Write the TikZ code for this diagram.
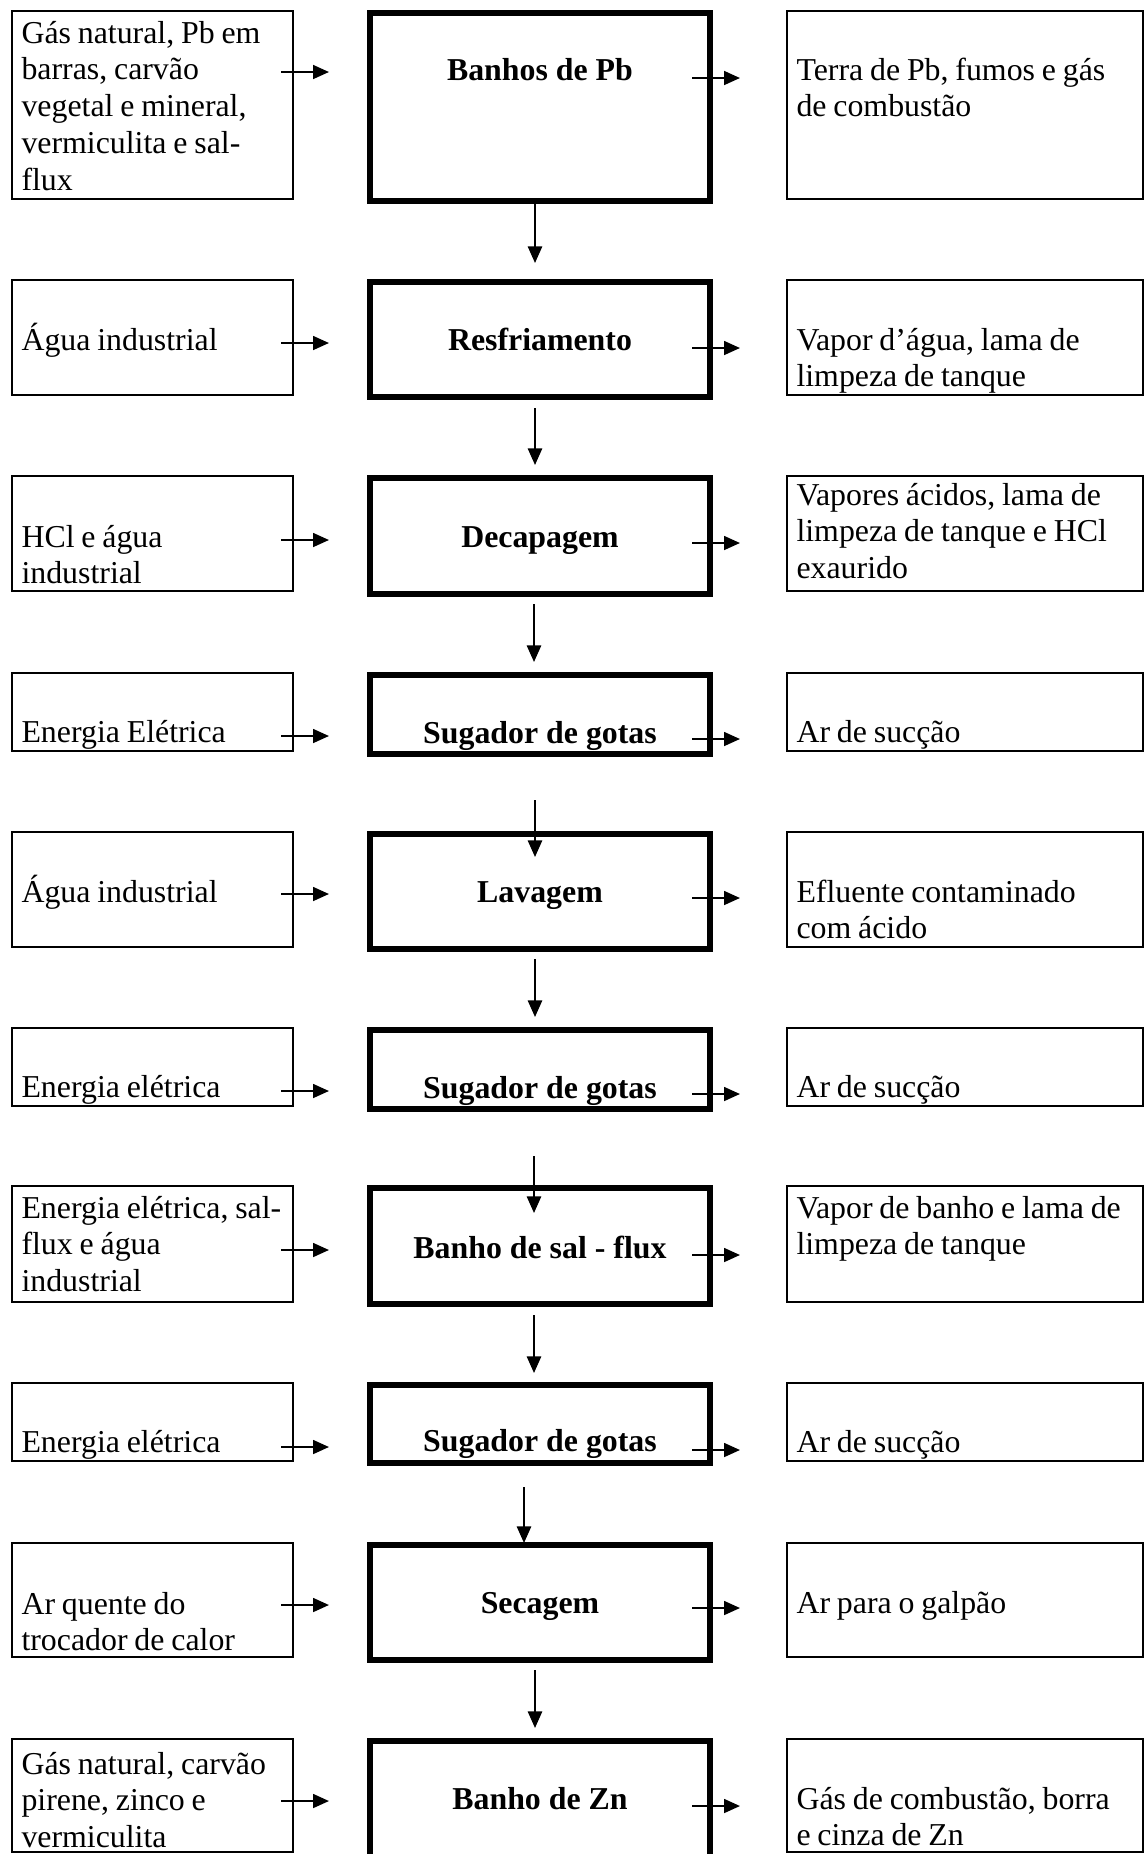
\documentclass[tikz,border=0pt]{standalone}
\usepackage{fontspec}
\setmainfont{Liberation Serif}
\usetikzlibrary{arrows.meta}

% one drawing unit = one pixel of the 1145 x 1854 sheet
\newdimen\pxu
\pxu=0.3768pt

% slightly narrower word spaces for the plain-text boxes
\newcommand\tightspace{\spaceskip=0.215em plus 0.07em minus 0.05em\relax}

\tikzset{
  every node/.style={font=\fontsize{12pt}{13.9pt}\selectfont},
  plaintxt/.style={execute at begin node=\tightspace},
  sidebox/.style={draw, line width=0.75pt, rectangle, inner sep=0pt, outer sep=0pt,
                  anchor=north west},
  inbox/.style={sidebox, minimum width={281*\pxu}},
  outbox/.style={sidebox, minimum width={356*\pxu}},
  procbox/.style={draw, line width=2.4pt, rectangle, inner sep=0pt, outer sep=0pt,
                  anchor=north, minimum width={339.5*\pxu}},
  lefttxt/.style={plaintxt, anchor=base west, inner sep=0pt, align=left, text width=107pt},
  righttxt/.style={plaintxt, anchor=base west, inner sep=0pt, align=left, text width=132pt},
  proctxt/.style={anchor=base, inner sep=0pt,
                  font=\fontsize{12pt}{13.9pt}\selectfont\bfseries},
  harrow/.style={line width=0.8pt, -{Triangle[length=6pt,width=5.2pt]}},
  varrow/.style={line width=0.75pt, -{Triangle[length=6.3pt,width=5.4pt]}},
}

% one row: input box, process box, output box and the two side arrows
% #1 id, #2 top, #3 bottom of side boxes, #4 bottom of process box,
% #5 height of input arrow, #6 height of output arrow
\newcommand\flowrow[6]{%
  \node[inbox, minimum height={(#3-#2-2)*\pxu}] (in#1) at (12,#2+1) {};
  \node[procbox, minimum height={(#4-#2-6.4)*\pxu}] (p#1) at (540,#2+3.2) {};
  \node[outbox, minimum height={(#3-#2-2)*\pxu}] (out#1) at (787,#2+1) {};
  \coordinate (ia#1) at (281,#5);
  \coordinate (ib#1) at (329,#5);
  \coordinate (oa#1) at (692,#6);
  \coordinate (ob#1) at (740,#6);
  \draw[harrow] (ia#1) -- (ib#1);
  \draw[harrow] (oa#1) -- (ob#1);
}

% vertical arrow between two process steps
% #1 id, #2 x, #3 start, #4 tip
\newcommand\stepdown[4]{%
  \coordinate (da#1) at (#2,#3);
  \coordinate (db#1) at (#2,#4);
  \draw[varrow] (da#1) -- (db#1);
}

\begin{document}
\begin{tikzpicture}[x=\pxu, y=-\pxu]
\useasboundingbox (0,0) rectangle (1145,1854);

% boxes and side arrows
\flowrow{1}{10}{200}{204}{72}{78}
\flowrow{2}{279}{396}{400}{343}{348}
\flowrow{3}{475}{592}{597}{540}{543}
\flowrow{4}{672}{752}{757}{736}{739}
\flowrow{5}{831}{948}{952}{894}{898}
\flowrow{6}{1027}{1107}{1112}{1091}{1094}
\flowrow{7}{1185}{1303}{1307}{1250}{1255}
\flowrow{8}{1382}{1462}{1466}{1447}{1450}
\flowrow{9}{1542}{1658}{1663}{1605}{1608}
\flowrow{10}{1738}{1853}{1875}{1801}{1806}

% arrows down the process line
\stepdown{1}{535}{204}{263}
\stepdown{2}{535}{408}{465}
\stepdown{3}{534}{604}{662}
\stepdown{4}{535}{800}{857}
\stepdown{5}{535}{959}{1017}
\stepdown{6}{534}{1156}{1213}
\stepdown{7}{534}{1315}{1373}
\stepdown{8}{524}{1487}{1543}
\stepdown{9}{535}{1670}{1728}

% row 1
\node[lefttxt] (t1a) at (21,43) {Gás natural, Pb em\\barras, carvão\\vegetal e mineral,\\vermiculita e sal-\\flux};
\node[proctxt] (t1b) at (540,80) {Banhos de Pb};
\node[righttxt] (t1c) at (796,80) {Terra de Pb, fumos e gás\\de combustão};
% row 2
\node[lefttxt] (t2a) at (21,350) {Água industrial};
\node[proctxt] (t2b) at (540,350) {Resfriamento};
\node[righttxt] (t2c) at (796,350) {Vapor d’água, lama de\\limpeza de tanque};
% row 3
\node[lefttxt] (t3a) at (21,547) {HCl e água\\industrial};
\node[proctxt] (t3b) at (540,547) {Decapagem};
\node[righttxt] (t3c) at (796,505) {Vapores ácidos, lama de\\limpeza de tanque e HCl\\exaurido};
% row 4
\node[lefttxt] (t4a) at (21,742) {Energia Elétrica};
\node[proctxt] (t4b) at (540,743) {Sugador de gotas};
\node[righttxt] (t4c) at (796,742) {Ar de sucção};
% row 5
\node[lefttxt] (t5a) at (21,902) {Água industrial};
\node[proctxt] (t5b) at (540,902) {Lavagem};
\node[righttxt] (t5c) at (796,902) {Efluente contaminado\\com ácido};
% row 6
\node[lefttxt] (t6a) at (21,1097) {Energia elétrica};
\node[proctxt] (t6b) at (540,1098) {Sugador de gotas};
\node[righttxt] (t6c) at (796,1097) {Ar de sucção};
% row 7
\node[lefttxt] (t7a) at (21,1218) {Energia elétrica, sal-\\flux e água\\industrial};
\node[proctxt] (t7b) at (540,1258) {Banho de sal - flux};
\node[righttxt] (t7c) at (796,1218) {Vapor de banho e lama de\\limpeza de tanque};
% row 8
\node[lefttxt] (t8a) at (21,1452) {Energia elétrica};
\node[proctxt] (t8b) at (540,1451) {Sugador de gotas};
\node[righttxt] (t8c) at (796,1452) {Ar de sucção};
% row 9
\node[lefttxt] (t9a) at (21,1614) {Ar quente do\\trocador de calor};
\node[proctxt] (t9b) at (540,1613) {Secagem};
\node[righttxt] (t9c) at (796,1613) {Ar para o galpão};
% row 10
\node[lefttxt] (t10a) at (21,1774) {Gás natural, carvão\\pirene, zinco e\\vermiculita};
\node[proctxt] (t10b) at (540,1809) {Banho de Zn};
\node[righttxt] (t10c) at (796,1809) {Gás de combustão, borra\\e cinza de Zn};
\end{tikzpicture}
\end{document}
